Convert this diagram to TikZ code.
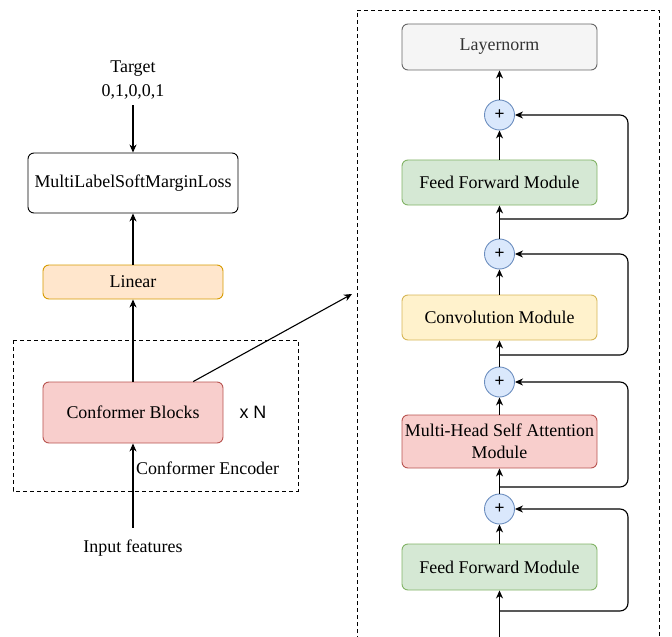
\documentclass[tikz,border=0pt]{standalone}
\usepackage{fontspec}
\setmainfont{Liberation Serif}
\newfontfamily\arialfont{Liberation Sans}
\usetikzlibrary{arrows.meta,calc}
\definecolor{grnF}{HTML}{D5E8D4}\definecolor{grnD}{HTML}{82B366}
\definecolor{yelF}{HTML}{FFF2CC}\definecolor{yelD}{HTML}{D6B656}
\definecolor{redF}{HTML}{F8CECC}\definecolor{redD}{HTML}{B85450}
\definecolor{bluF}{HTML}{DAE8FC}\definecolor{bluD}{HTML}{6C8EBF}
\definecolor{orgF}{HTML}{FFE6CC}\definecolor{orgD}{HTML}{D79B00}
\definecolor{gryF}{HTML}{F5F5F5}\definecolor{gryD}{HTML}{666666}
\definecolor{gryT}{HTML}{333333}
\tikzset{
  box/.style={draw, rounded corners=6bp, line width=0.9bp, align=center, inner sep=2bp,
    font=\fontsize{18}{22}\selectfont},
  plus/.style={circle, draw=bluD, fill=bluF, line width=0.9bp, minimum size=30bp, inner sep=0pt,
    font=\arialfont\fontsize{17}{17}\selectfont},
  arr/.style={line width=1.1bp, -{Stealth[length=8bp,width=7bp,inset=2.5bp]}},
  loop/.style={arr, rounded corners=8bp},
  dbox/.style={draw, line width=0.9bp, dash pattern=on 4bp off 3bp},
  lbl/.style={font=\fontsize{18}{24}\selectfont, align=center, inner sep=0pt}
}
\begin{document}
\begin{tikzpicture}[x=1bp,y=-1bp]
\useasboundingbox (0,0) rectangle (672,637);
% ---- left part
\node[lbl] (tgt) at (133,80) {Target\\0,1,0,0,1};
\node[box, minimum width=210bp, minimum height=60bp] (loss) at (133,183) {MultiLabelSoftMarginLoss};
\node[box, draw=orgD, fill=orgF, minimum width=180bp, minimum height=34bp] (lin) at (133,282) {Linear};
\draw[dbox] (13,340) rectangle (298,491);
\node[box, draw=redD, fill=redF, minimum width=180bp, minimum height=61bp] (cb) at (133,412.5) {Conformer Blocks};
\node[lbl, font=\arialfont\fontsize{18}{22}\selectfont] (xn) at (253,412) {x N};
\node[lbl, anchor=west] (enc) at (136,468) {Conformer Encoder};
\node[lbl] (inp) at (133,548) {Input features};
\coordinate (arrEnd) at (352,294);
\draw[arr, shorten <=6bp] (tgt.south) -- (loss.north);
\draw[arr] (lin.north) -- (loss.south);
\draw[arr] (cb.north) -- (lin.south);
\draw[arr, shorten <=12bp] (inp.north) -- (cb.south);
\draw[arr] ($(cb.north west)!0.833!(cb.north east)$) -- (arrEnd);
% ---- right part
\draw[dbox] (357,640) -- (357,10) -- (659,10) -- (659,640);
\node[box, draw=gryD, fill=gryF, text=gryT, minimum width=195bp, minimum height=46bp] (ln) at (499.5,47) {Layernorm};
\node[plus] (c1) at (499.5,115) {+};
\node[box, draw=grnD, fill=grnF, minimum width=195bp, minimum height=45bp] (ff1) at (499.5,182.5) {Feed Forward Module};
\node[plus] (c2) at (499.5,254) {+};
\node[box, draw=yelD, fill=yelF, minimum width=195bp, minimum height=45bp] (conv) at (499.5,317.5) {Convolution Module};
\node[plus] (c3) at (499.5,382) {+};
\node[box, draw=redD, fill=redF, minimum width=195bp, minimum height=53bp] (mhsa) at (499.5,441.5) {Multi-Head Self Attention\\Module};
\node[plus] (c4) at (499.5,509) {+};
\node[box, draw=grnD, fill=grnF, minimum width=195bp, minimum height=46bp] (ff2) at (499.5,567) {Feed Forward Module};
\coordinate (j1) at (499.5,219);
\coordinate (j2) at (499.5,355);
\coordinate (j3) at (499.5,487);
\coordinate (j4) at (499.5,611);
\coordinate (src) at (499.5,640);
\draw[arr] (src) -- (ff2.south);
\draw[arr] (ff2.north) -- (c4.south);
\draw[arr] (c4.north) -- (mhsa.south);
\draw[arr] (mhsa.north) -- (c3.south);
\draw[arr] (c3.north) -- (conv.south);
\draw[arr] (conv.north) -- (c2.south);
\draw[arr] (c2.north) -- (ff1.south);
\draw[arr] (ff1.north) -- (c1.south);
\draw[arr] (c1.north) -- (ln.south);
\draw[loop] (j4) -- (628,611) -- (628,509) -- (c4.east);
\draw[loop] (j3) -- (628,487) -- (628,382) -- (c3.east);
\draw[loop] (j2) -- (628,355) -- (628,254) -- (c2.east);
\draw[loop] (j1) -- (628,219) -- (628,115) -- (c1.east);
\end{tikzpicture}
\end{document}
